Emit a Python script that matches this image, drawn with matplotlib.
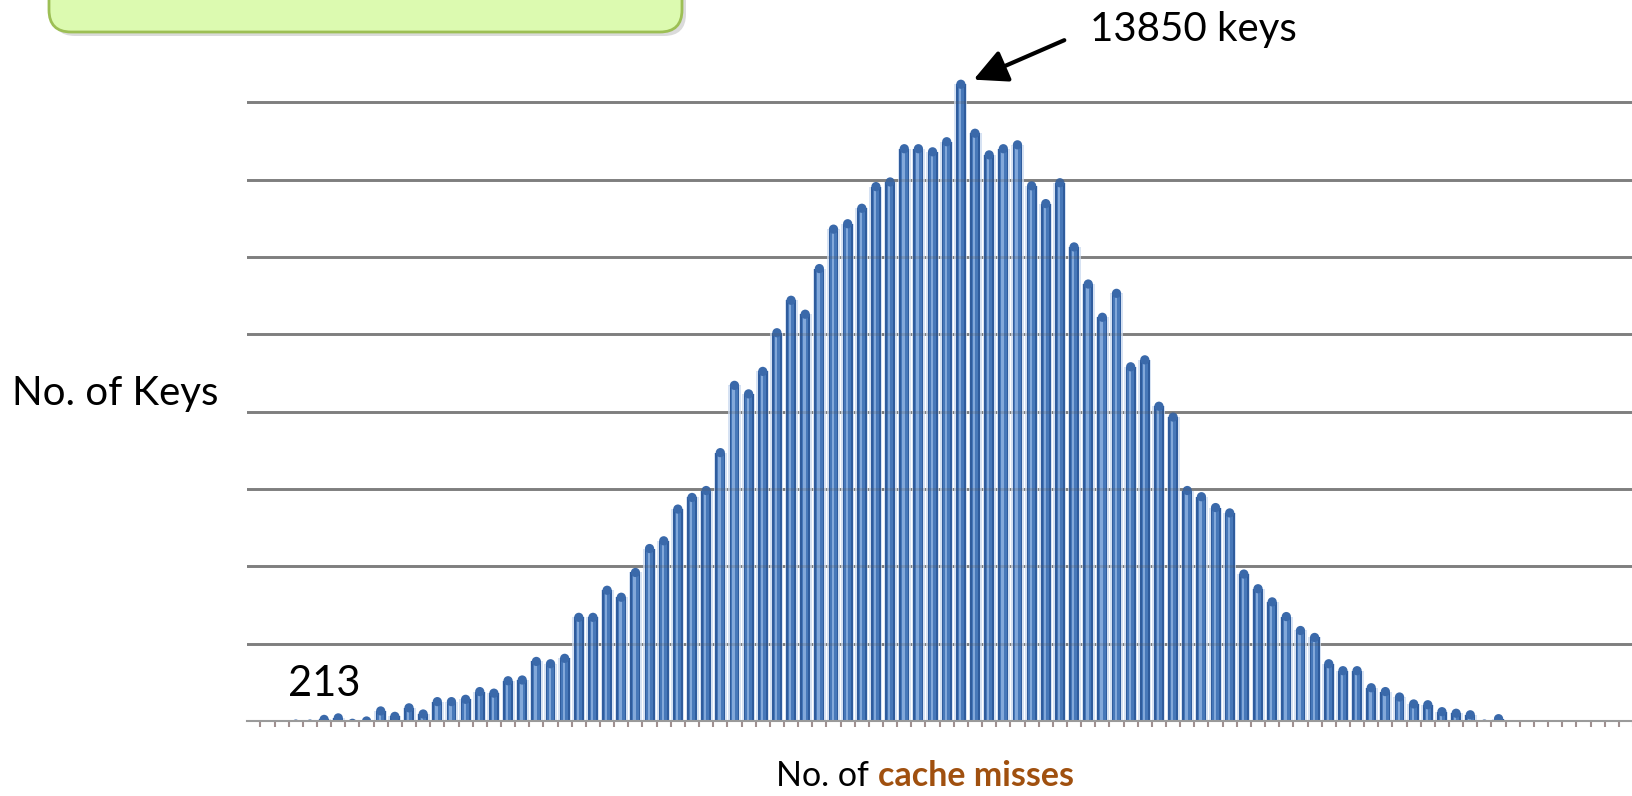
import matplotlib.pyplot as plt
import matplotlib.transforms as mtransforms
import numpy as np
from matplotlib.patches import FancyBboxPatch
from matplotlib.transforms import IdentityTransform

plt.rcParams['font.family'] = ['Lato', 'DejaVu Sans']

# number of keys per cache-miss bucket
keys = [17, 17, 17, 33, 33, 134, 167, 50, 100, 317,
        200, 384, 251, 518, 518, 568, 735, 701, 969, 985,
        1386, 1336, 1453, 2338, 2338, 2923, 2772, 3307, 3824, 3991,
        4676, 4927, 5077, 5895, 7348, 7164, 7649, 8484, 9185, 8884,
        9870, 10721, 10838, 11172, 11640, 11740, 12458, 12458, 12391, 12609,
        13850, 12792, 12325, 12458, 12542, 11657, 11273, 11723, 10337, 9536,
        8818, 9335, 7749, 7899, 6897, 6663, 5077, 4943, 4709, 4593,
        3273, 2956, 2672, 2355, 2054, 1904, 1336, 1186, 1186, 818,
        735, 618, 468, 451, 301, 267, 234, 33, 150, 17,
        17, 17, 17, 17, 17, 17, 17, 17]
grid_step = 1670
peak_label = "13850 keys"
first_label = "213"

W, H = 1633, 796
fig = plt.figure(figsize=(W / 100, H / 100), dpi=100)
ax = fig.add_axes([247 / W, 75 / H, (W - 247) / W, (721 - 25) / H])

x = np.arange(len(keys))
vals = np.array(keys)

for lvl in range(1, 9):
    ax.axhline(lvl * grid_step, color='#8c8c8c', lw=2.1, zorder=0)

# bars are shifted down by the cap radius so the round top ends at the value
cap_s = 44
cap_r = np.sqrt(cap_s) / 2
shifted = mtransforms.offset_copy(ax.transData, fig=fig, y=-cap_r, units='points')

ax.bar(x, vals, width=0.92, color='#d6e2f3', zorder=1, transform=shifted)
ax.bar(x, vals, width=0.7, color='#2f5c9d', zorder=2, transform=shifted)
ax.bar(x, vals, width=0.46, color='#4778b9', zorder=3, transform=shifted)
ax.bar(x - 0.06, vals, width=0.16, color='#82a8da', zorder=4, transform=shifted)
ax.scatter(x, vals, s=cap_s, color='#3a69aa', edgecolors='none', zorder=4,
           transform=shifted)

for lvl in range(1, 9):
    ax.axhline(lvl * grid_step, color='#555555', lw=2.1, alpha=0.22, zorder=5)

ax.set_xlim(-0.45, 97.5)
ax.set_ylim(0, 9 * grid_step)
for s in ['top', 'right', 'left']:
    ax.spines[s].set_visible(False)
ax.spines['bottom'].set_color('#9a9a9a')
ax.spines['bottom'].set_linewidth(1.5)
ax.spines['bottom'].set_zorder(6)
ax.set_yticks([])
ax.set_xticks(x + 0.5)
ax.set_xticklabels([])
ax.tick_params(axis='x', length=4, width=1.5, color='#a09090', direction='out')

# peak annotation
ip = int(np.argmax(vals))
ax.annotate(peak_label, xy=(ip + 0.9, vals[ip]), xycoords='data',
            xytext=(1090, H - 29), textcoords='figure pixels',
            ha='left', va='center', fontsize=29,
            arrowprops=dict(arrowstyle='-|>,head_length=0.7,head_width=0.35',
                            color='black', lw=3, relpos=(0, 0.5),
                            shrinkA=18, shrinkB=0))

fig.text(288 / W, (H - 684) / H, first_label, fontsize=30, ha='left', va='center')
fig.text(12 / W, (H - 393) / H, "No. of Keys", fontsize=29, ha='left', va='center')

t1 = fig.text(776 / W, (H - 776) / H, "No. of ", fontsize=24.5, ha='left', va='center')
ax.annotate("cache misses", xy=(1, 0), xycoords=t1, ha='left', va='bottom',
            fontsize=24.5, fontweight='bold', color='#a0500f', annotation_clip=False)

# green callout box, cut off at the top
shadow = FancyBboxPatch((53, H - 36), 633, 100, boxstyle='round,pad=0,rounding_size=22',
                        transform=IdentityTransform(), facecolor='#999999', alpha=0.35,
                        edgecolor='none')
box = FancyBboxPatch((49, H - 32), 633, 100, boxstyle='round,pad=0,rounding_size=22',
                     transform=IdentityTransform(), facecolor='#dcfab0',
                     edgecolor='#9dbf55', lw=2)
fig.patches.append(shadow)
fig.patches.append(box)

fig.savefig('out.png', dpi=100)
